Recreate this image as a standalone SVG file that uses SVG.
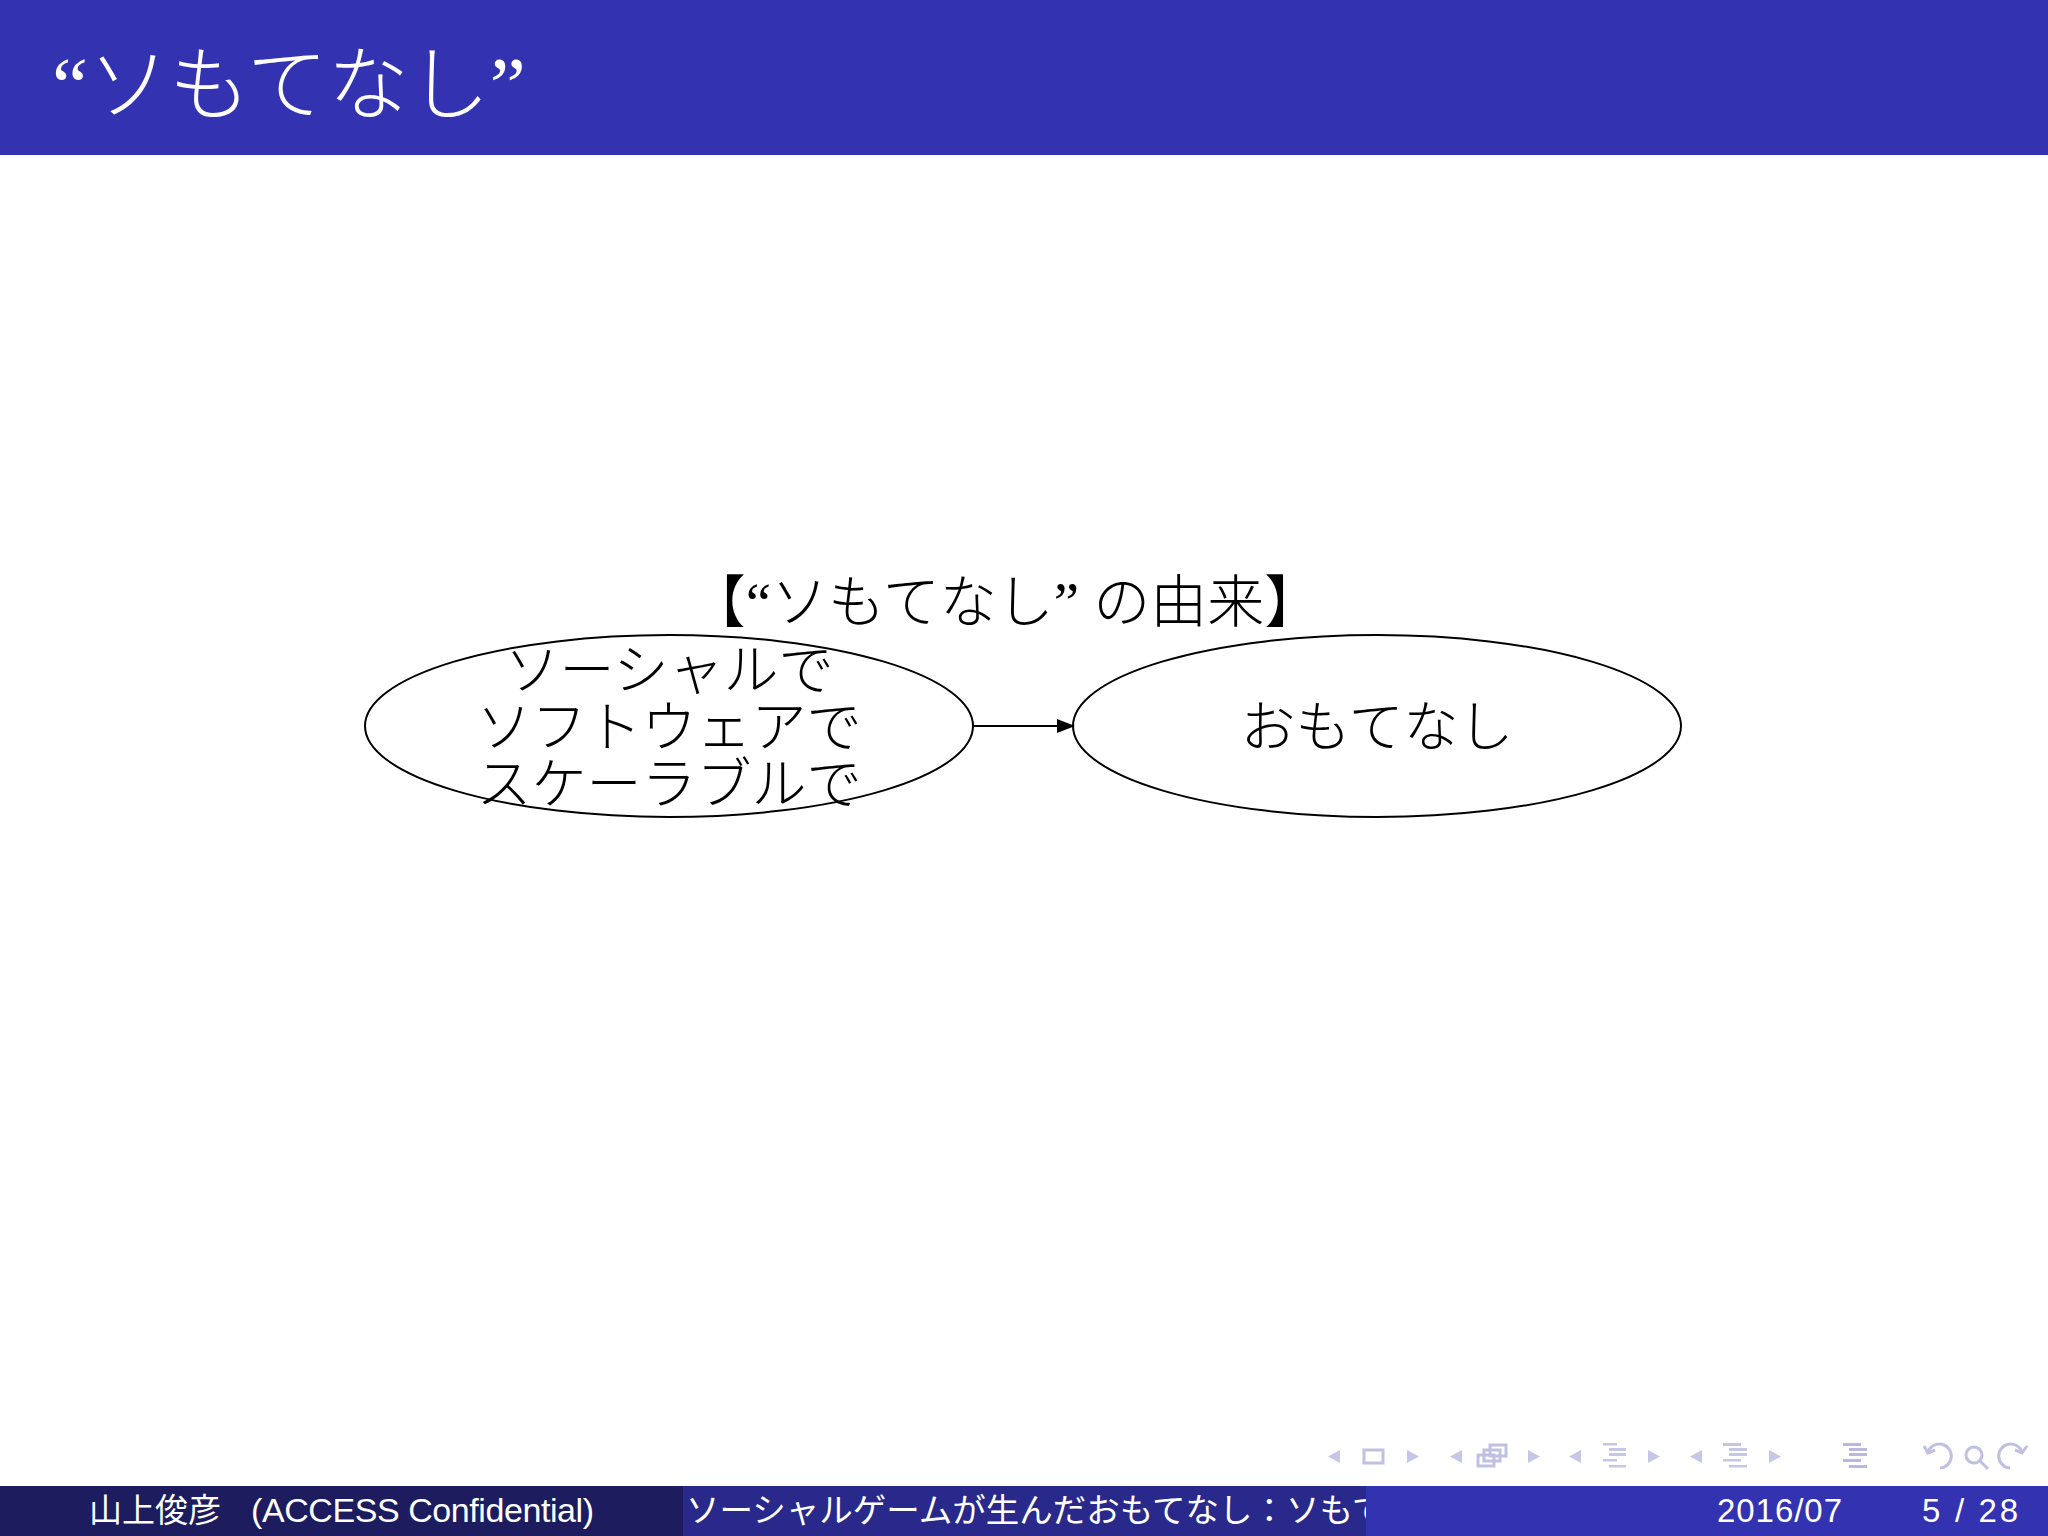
<svg xmlns="http://www.w3.org/2000/svg" width="2048" height="1536" viewBox="0 0 2048 1536">
<style>
.cjk{font-family:"Noto Sans CJK JP","Noto Sans CJK SC",sans-serif;font-weight:300}
.q{font-family:"Liberation Serif",serif}
.lat{font-family:"Liberation Sans","Noto Sans CJK JP",sans-serif}
.node ellipse{fill:none;stroke:#000;stroke-width:2}
.node text{font-size:55px;fill:#000;text-anchor:middle}
.foot{fill:#fff}
.ic{fill:#c6c6e6;stroke:none}
.ics{fill:none;stroke:#c0c0e2;stroke-width:3}
</style>
<defs>
<marker id="arr" markerWidth="18" markerHeight="14" refX="17" refY="7" orient="auto" markerUnits="userSpaceOnUse">
<path d="M0,0 L18,7 L0,14 Z" fill="#000"/>
</marker>
<clipPath id="midclip"><rect x="682" y="1486" width="684" height="50"/></clipPath>
</defs>
<rect x="0" y="0" width="2048" height="1536" fill="#fff"/>
<g id="header">
<rect x="0" y="0" width="2048" height="155" fill="#3333b2"/>
<text x="52" y="113" font-size="81" fill="#fff"><tspan class="q">“</tspan><tspan class="cjk">ソもてなし</tspan><tspan class="q">”</tspan></text>
</g>
<g id="graph-label">
<text x="1005" y="622" font-size="57" text-anchor="middle" fill="#000" class="cjk">【<tspan class="q">“</tspan>ソもてなし<tspan class="q">” </tspan>の由来】</text>
</g>
<g id="connectors">
<line x1="973" y1="726" x2="1074" y2="726" stroke="#000" stroke-width="2" marker-end="url(#arr)"/>
</g>
<g id="node-social" class="node">
<ellipse cx="669" cy="726" rx="304" ry="91"/>
<text class="cjk"><tspan x="669" y="689">ソーシャルで</tspan><tspan x="669" y="746">ソフトウェアで</tspan><tspan x="669" y="803">スケーラブルで</tspan></text>
</g>
<g id="node-omotenashi" class="node">
<ellipse cx="1377" cy="726" rx="304" ry="91"/>
<text class="cjk" x="1377" y="746">おもてなし</text>
</g>
<g id="nav">
<path class="ic" d="M1340,1450 L1328,1456.5 L1340,1463 Z"/>
<rect class="ics" x="1364" y="1450" width="19" height="13"/>
<path class="ic" d="M1407,1450 L1419,1456.5 L1407,1463 Z"/>
<path class="ic" d="M1462,1450 L1450,1456.5 L1462,1463 Z"/>
<rect class="ics" x="1490" y="1445" width="16" height="11"/>
<rect class="ics" x="1484" y="1450" width="16" height="11"/>
<rect class="ics" x="1478" y="1455" width="16" height="11" fill="#fff"/>
<path class="ic" d="M1528,1450 L1540,1456.5 L1528,1463 Z"/>
<path class="ic" d="M1581,1450 L1569,1456.5 L1581,1463 Z"/>
<g fill="#c6c6e6"><rect x="1603" y="1443" width="14" height="2.5"/><rect x="1609" y="1448" width="17" height="3"/><rect x="1609" y="1453" width="17" height="3"/><rect x="1603" y="1459" width="14" height="2.5"/><rect x="1609" y="1465" width="17" height="2.5"/></g>
<path class="ic" d="M1648,1450 L1660,1456.5 L1648,1463 Z"/>
<path class="ic" d="M1702,1450 L1690,1456.5 L1702,1463 Z"/>
<g fill="#c6c6e6"><rect x="1723" y="1443" width="18" height="3"/><rect x="1729" y="1448" width="18" height="3"/><rect x="1729" y="1453" width="18" height="3"/><rect x="1723" y="1459" width="18" height="2.5"/><rect x="1729" y="1465" width="18" height="2.5"/></g>
<path class="ic" d="M1769,1450 L1781,1456.5 L1769,1463 Z"/>
<g fill="#b8b8e0"><rect x="1843" y="1443" width="18" height="3"/><rect x="1849" y="1448" width="18" height="3"/><rect x="1849" y="1453" width="18" height="3"/><rect x="1843" y="1459" width="18" height="3"/><rect x="1849" y="1465" width="18" height="3"/></g>
<path class="ics" d="M1928,1452 A12,12 0 1 1 1940,1468"/>
<path class="ics" d="M1924,1446 L1928,1453 L1935,1450"/>
<circle class="ics" cx="1974" cy="1455" r="8"/>
<line class="ics" x1="1980" y1="1461" x2="1988" y2="1469"/>
<path class="ics" d="M2022,1452 A12,12 0 1 0 2010,1468"/>
<path class="ics" d="M2027,1446 L2022,1453 L2015,1450"/>
</g>
<g id="footer">
<rect x="0" y="1486" width="683" height="50" fill="#1c1c5e"/>
<rect x="683" y="1486" width="683" height="50" fill="#29298c"/>
<rect x="1366" y="1486" width="682" height="50" fill="#3333b2"/>
<text class="foot cjk" style="font-size:33px;font-weight:400" x="89" y="1522">山上俊彦</text>
<text class="foot lat" style="font-size:34px" x="251" y="1522" textLength="343">(ACCESS Confidential)</text>
<g clip-path="url(#midclip)"><text class="foot cjk" style="font-size:33.5px;font-weight:400" x="686" y="1522">ソーシャルゲームが生んだおもてなし：ソもてなし</text></g>
<text class="foot lat" style="font-size:33px" x="1717" y="1522" textLength="125">2016/07</text>
<text class="foot lat" style="font-size:33px" x="1922" y="1522" textLength="96" xml:space="preserve">5 / 28</text>
</g>
</svg>
